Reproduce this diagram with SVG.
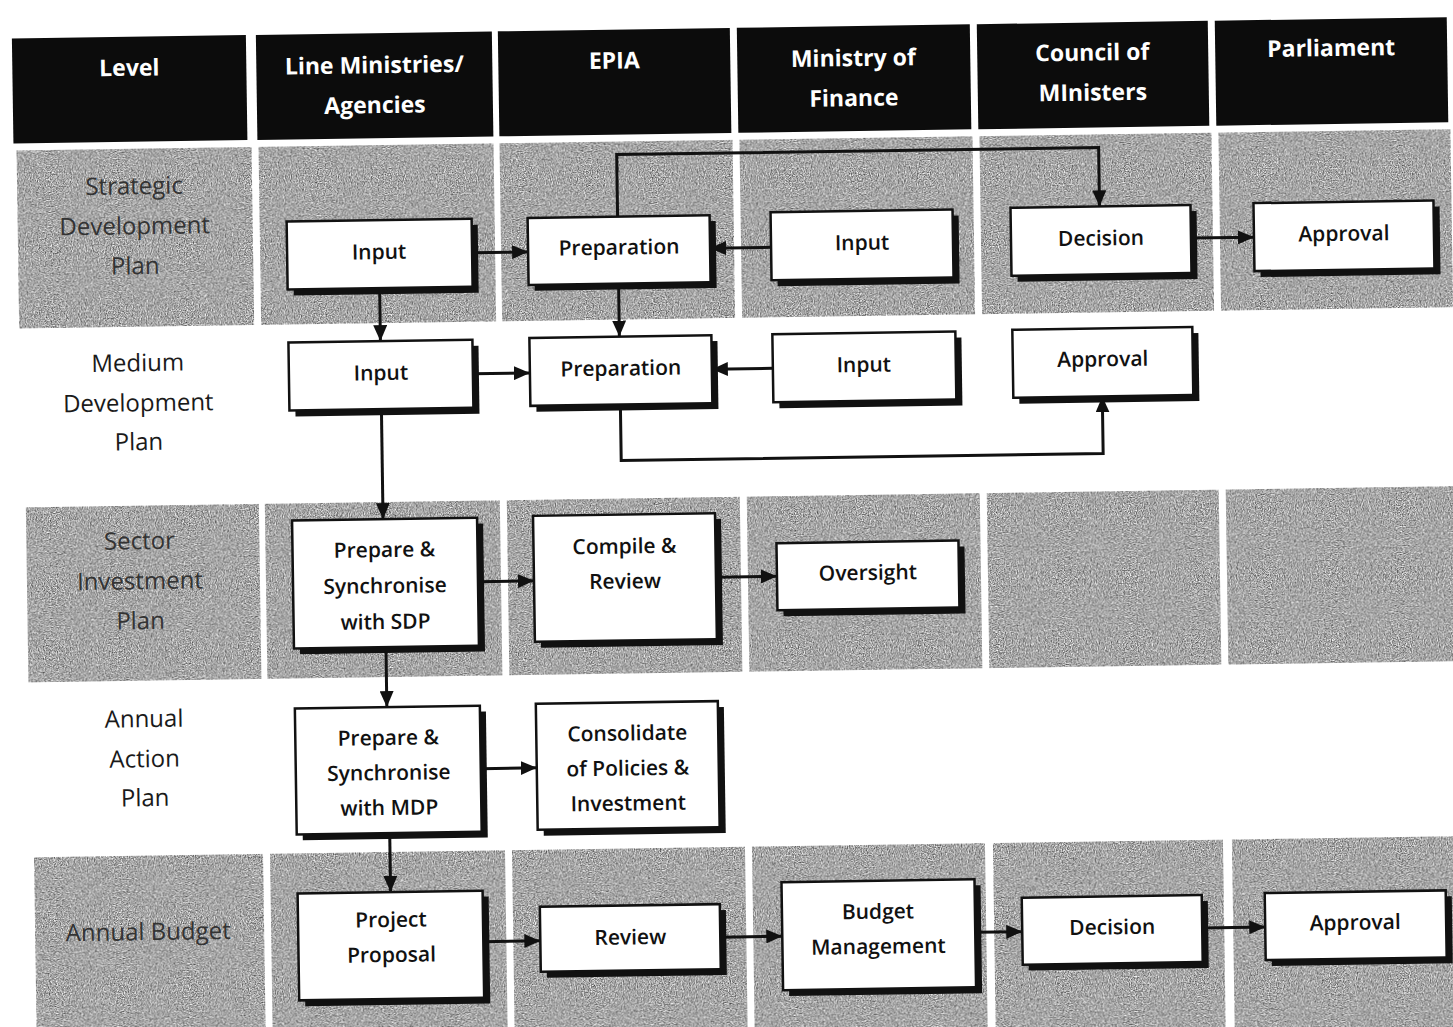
<svg xmlns="http://www.w3.org/2000/svg" width="1453" height="1027" viewBox="0 0 1453 1027">
<style>
.hd{fill:#0c0c0c}
.ht{fill:#fff;font-family:"Open Sans","Liberation Sans",sans-serif;font-weight:700;font-size:23px;text-anchor:middle;dominant-baseline:central}
.gr{fill:#a9a9a9}
.lv{fill:#333;font-family:"Open Sans","Liberation Sans",sans-serif;font-size:24px;text-anchor:middle;dominant-baseline:central}
.lw{fill:#1a1a1a;font-family:"Open Sans","Liberation Sans",sans-serif;font-size:24px;text-anchor:middle;dominant-baseline:central}
.sh{fill:#111}
.bx{fill:#fff;stroke:#111;stroke-width:2.5}
.t{fill:#111;font-family:"Open Sans","Liberation Sans",sans-serif;font-size:21px;font-weight:600;text-anchor:middle;dominant-baseline:central}
.c{fill:none;stroke:#111;stroke-width:3;marker-end:url(#ah)}
</style>
<defs>
<marker id="ah" viewBox="0 0 16 14" refX="16" refY="7" markerWidth="16" markerHeight="14" markerUnits="userSpaceOnUse" orient="auto"><path d="M0,0 L16,7 L0,14 z" fill="#111"/></marker>
<filter id="grain" x="0" y="0" width="100%" height="100%" color-interpolation-filters="sRGB">
<feTurbulence type="fractalNoise" baseFrequency="0.85" numOctaves="2" seed="4" result="n"/>
<feColorMatrix in="n" type="matrix" values="1.1 0 0 0 0.1  1.1 0 0 0 0.1  1.1 0 0 0 0.1  0 0 0 0 1" result="g"/>
<feComposite in="g" in2="SourceGraphic" operator="in"/>
</filter>
</defs>
<rect width="1453" height="1027" fill="#fff"/>
<g transform="rotate(-0.85 726 513)">
<g id="header">
<rect class="hd" x="19" y="28" width="234" height="105"/>
<rect class="hd" x="263" y="28" width="236" height="105"/>
<rect class="hd" x="505" y="28" width="232" height="105"/>
<rect class="hd" x="744" y="28" width="233" height="105"/>
<rect class="hd" x="984" y="28" width="231" height="105"/>
<rect class="hd" x="1222" y="28" width="232" height="105"/>
<text class="ht" x="136" y="58">Level</text>
<text class="ht" x="381" y="59">Line Ministries/</text>
<text class="ht" x="381" y="99">Agencies</text>
<text class="ht" x="621" y="58">EPIA</text>
<text class="ht" x="860" y="59">Ministry of</text>
<text class="ht" x="860" y="99">Finance</text>
<text class="ht" x="1099" y="57">Council of</text>
<text class="ht" x="1099" y="97">MInisters</text>
<text class="ht" x="1338" y="56">Parliament</text>
</g>
<g id="bands" filter="url(#grain)">
<rect class="gr" x="22" y="140" width="235" height="178"/>
<rect class="gr" x="264" y="140" width="235" height="178"/>
<rect class="gr" x="505" y="140" width="233" height="178"/>
<rect class="gr" x="745" y="140" width="233" height="178"/>
<rect class="gr" x="985" y="140" width="232" height="178"/>
<rect class="gr" x="1224" y="140" width="232" height="178"/>
<rect class="gr" x="26" y="497" width="233" height="175"/>
<rect class="gr" x="265" y="497" width="235" height="175"/>
<rect class="gr" x="507" y="497" width="233" height="175"/>
<rect class="gr" x="747" y="497" width="233" height="175"/>
<rect class="gr" x="987" y="497" width="232" height="175"/>
<rect class="gr" x="1226" y="497" width="232" height="175"/>
<rect class="gr" x="29" y="847" width="229" height="200"/>
<rect class="gr" x="265" y="847" width="235" height="200"/>
<rect class="gr" x="507" y="847" width="233" height="200"/>
<rect class="gr" x="747" y="847" width="233" height="200"/>
<rect class="gr" x="988" y="847" width="230" height="200"/>
<rect class="gr" x="1227" y="847" width="232" height="200"/>
</g>
<g id="levels">
<text class="lv" x="139" y="176">Strategic</text>
<text class="lv" x="139" y="216">Development</text>
<text class="lv" x="139" y="256">Plan</text>
<text class="lw" x="140" y="353">Medium</text>
<text class="lw" x="140" y="393">Development</text>
<text class="lw" x="140" y="432">Plan</text>
<text class="lv" x="139" y="531">Sector</text>
<text class="lv" x="139" y="571">Investment</text>
<text class="lv" x="139" y="611">Plan</text>
<text class="lw" x="141" y="709">Annual</text>
<text class="lw" x="141" y="749">Action</text>
<text class="lw" x="141" y="788">Plan</text>
<text class="lv" x="142" y="922">Annual Budget</text>
</g>
<g id="connectors">
<path class="c" d="M476,249 H532"/>
<path class="c" d="M775,248 H714"/>
<path class="c" d="M622,215 V153 H1104 V212"/>
<path class="c" d="M1195,245 H1258"/>
<path class="c" d="M383,283 V336"/>
<path class="c" d="M622,282 V335"/>
<path class="c" d="M475,370 H532"/>
<path class="c" d="M775,369 H714"/>
<path class="c" d="M622,403 V459 H1104 V402"/>
<path class="c" d="M383,404 V514"/>
<path class="c" d="M477,578 H533"/>
<path class="c" d="M715,577 H776"/>
<path class="c" d="M384,642 V702"/>
<path class="c" d="M477,765 H533"/>
<path class="c" d="M385,828 V887"/>
<path class="c" d="M477,938 H534"/>
<path class="c" d="M714,937 H776"/>
<path class="c" d="M969,936 H1016"/>
<path class="c" d="M1196,935 H1259"/>
</g>
<g id="n-sdp-input"><rect class="sh" x="297" y="221" width="185" height="68"/><rect class="bx" x="291" y="215" width="185" height="68"/><text class="t" x="383" y="246">Input</text></g>
<g id="n-sdp-prep"><rect class="sh" x="538" y="221" width="182" height="67"/><rect class="bx" x="532" y="215" width="182" height="67"/><text class="t" x="623" y="245">Preparation</text></g>
<g id="n-sdp-mof"><rect class="sh" x="781" y="219" width="182" height="68"/><rect class="bx" x="775" y="213" width="182" height="68"/><text class="t" x="866" y="244">Input</text></g>
<g id="n-sdp-decision"><rect class="sh" x="1021" y="218" width="180" height="68"/><rect class="bx" x="1015" y="212" width="180" height="68"/><text class="t" x="1105" y="243">Decision</text></g>
<g id="n-sdp-approval"><rect class="sh" x="1264" y="217" width="180" height="68"/><rect class="bx" x="1258" y="211" width="180" height="68"/><text class="t" x="1348" y="242">Approval</text></g>
<g id="n-mdp-input"><rect class="sh" x="297" y="342" width="184" height="68"/><rect class="bx" x="291" y="336" width="184" height="68"/><text class="t" x="383" y="367">Input</text></g>
<g id="n-mdp-prep"><rect class="sh" x="538" y="341" width="182" height="68"/><rect class="bx" x="532" y="335" width="182" height="68"/><text class="t" x="623" y="366">Preparation</text></g>
<g id="n-mdp-mof"><rect class="sh" x="781" y="341" width="183" height="68"/><rect class="bx" x="775" y="335" width="183" height="68"/><text class="t" x="866" y="366">Input</text></g>
<g id="n-mdp-approval"><rect class="sh" x="1021" y="340" width="180" height="68"/><rect class="bx" x="1015" y="334" width="180" height="68"/><text class="t" x="1105" y="364">Approval</text></g>
<g id="n-sip-prepare"><rect class="sh" x="298" y="520" width="185" height="128"/><rect class="bx" x="292" y="514" width="185" height="128"/><text class="t" x="384" y="544">Prepare &amp;</text><text class="t" x="384" y="580">Synchronise</text><text class="t" x="384" y="616">with SDP</text></g>
<g id="n-sip-compile"><rect class="sh" x="539" y="519" width="182" height="126"/><rect class="bx" x="533" y="513" width="182" height="126"/><text class="t" x="624" y="544">Compile &amp;</text><text class="t" x="624" y="579">Review</text></g>
<g id="n-sip-oversight"><rect class="sh" x="782" y="550" width="182" height="67"/><rect class="bx" x="776" y="544" width="182" height="67"/><text class="t" x="867" y="574">Oversight</text></g>
<g id="n-aap-prepare"><rect class="sh" x="298" y="708" width="185" height="126"/><rect class="bx" x="292" y="702" width="185" height="126"/><text class="t" x="385" y="732">Prepare &amp;</text><text class="t" x="385" y="767">Synchronise</text><text class="t" x="385" y="802">with MDP</text></g>
<g id="n-aap-consolidate"><rect class="sh" x="539" y="707" width="182" height="126"/><rect class="bx" x="533" y="701" width="182" height="126"/><text class="t" x="624" y="731">Consolidate</text><text class="t" x="624" y="766">of Policies &amp;</text><text class="t" x="624" y="801">Investment</text></g>
<g id="n-ab-proposal"><rect class="sh" x="298" y="893" width="185" height="107"/><rect class="bx" x="292" y="887" width="185" height="107"/><text class="t" x="385" y="914">Project</text><text class="t" x="385" y="949">Proposal</text></g>
<g id="n-ab-review"><rect class="sh" x="540" y="910" width="180" height="65"/><rect class="bx" x="534" y="904" width="180" height="65"/><text class="t" x="624" y="935">Review</text></g>
<g id="n-ab-budget"><rect class="sh" x="782" y="889" width="193" height="108"/><rect class="bx" x="776" y="883" width="193" height="108"/><text class="t" x="872" y="913">Budget</text><text class="t" x="872" y="948">Management</text></g>
<g id="n-ab-decision"><rect class="sh" x="1022" y="908" width="180" height="67"/><rect class="bx" x="1016" y="902" width="180" height="67"/><text class="t" x="1106" y="932">Decision</text></g>
<g id="n-ab-approval"><rect class="sh" x="1265" y="907" width="181" height="67"/><rect class="bx" x="1259" y="901" width="181" height="67"/><text class="t" x="1349" y="931">Approval</text></g>
</g>
</svg>
